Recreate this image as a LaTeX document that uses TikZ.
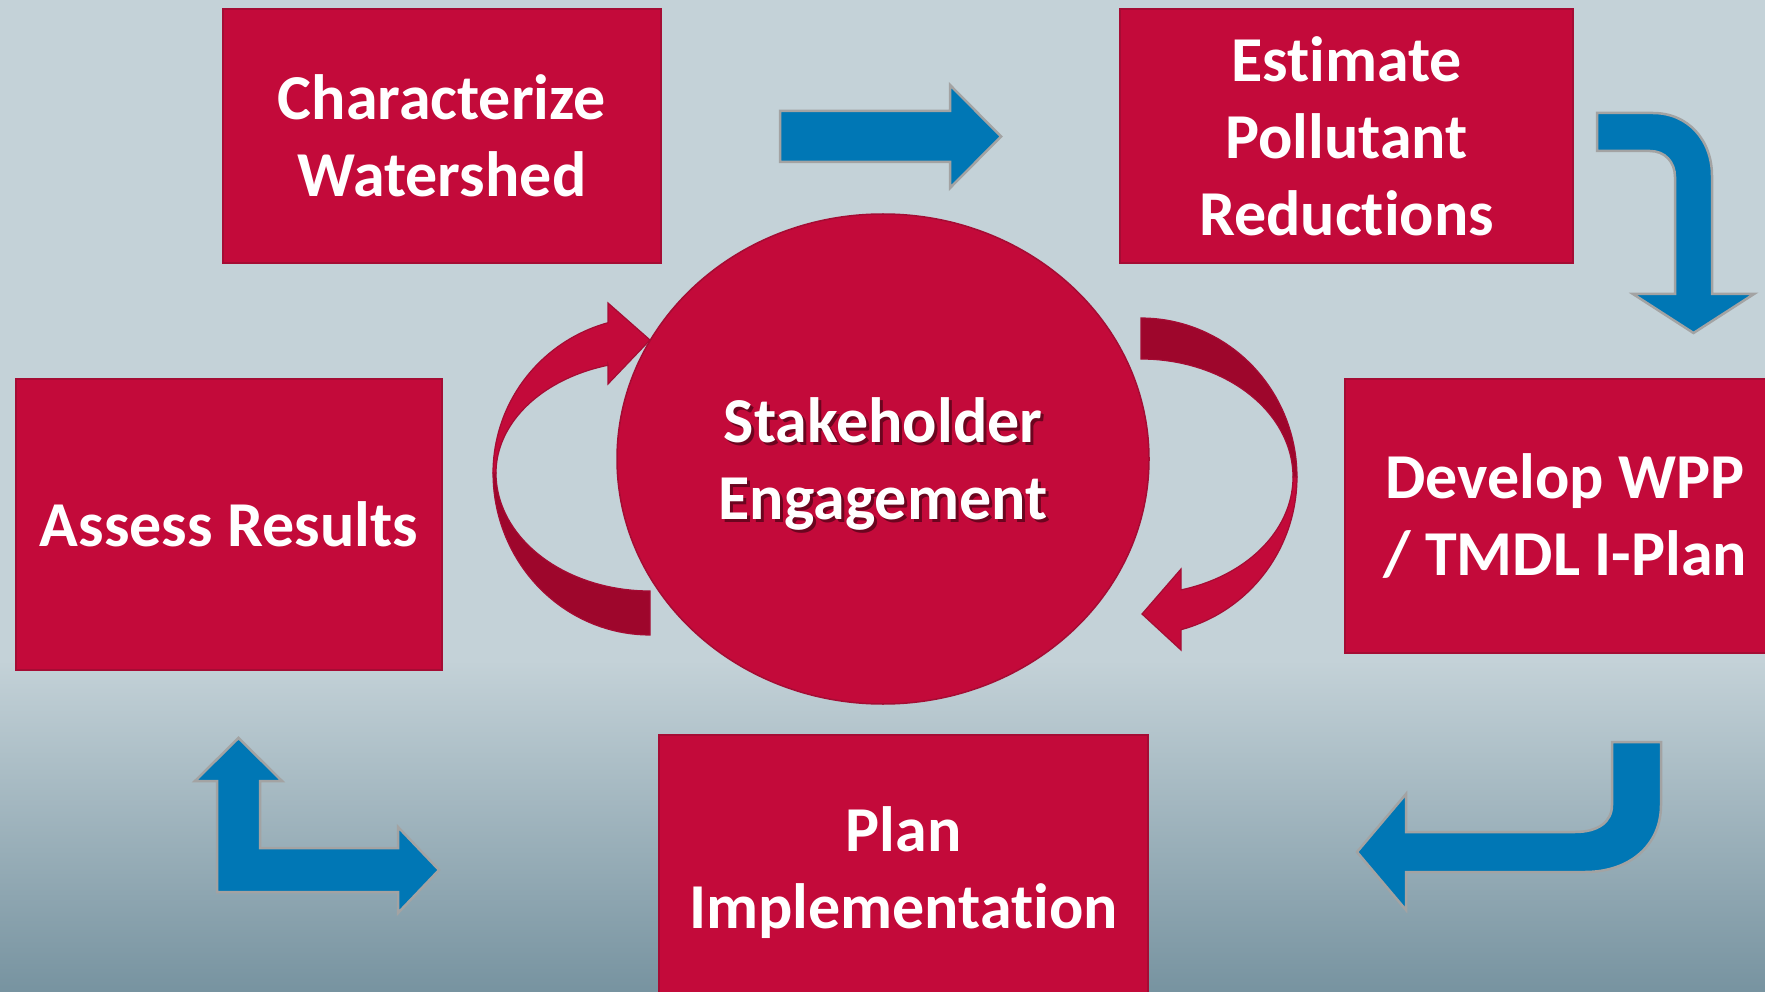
\documentclass[tikz,border=0pt]{standalone}
\usepackage{fontspec}
\setmainfont{Carlito}[Ligatures=NoCommon]
\usetikzlibrary{shapes.geometric}
\definecolor{bgtop}{HTML}{C4D2D8}
\definecolor{bgbot}{HTML}{7793A0}
\definecolor{boxred}{HTML}{C30A3A}
\definecolor{boxline}{HTML}{A50C34}
\definecolor{darkred}{HTML}{9E062C}
\definecolor{arrblue}{HTML}{0077B5}
\definecolor{arrline}{HTML}{A3A3A3}
\tikzset{
  bigtext/.style={text=white, font=\bfseries\fontsize{64}{77}\selectfont, align=center},
  redbox/.style={bigtext, draw=boxline, line width=1.5pt, fill=boxred, inner sep=0pt},
  blockarrow/.style={fill=arrblue, draw=arrline, line width=2.5pt, line join=miter},
  lightband/.style={fill=boxred, draw=boxline, line width=1.2pt, line join=miter},
  darkband/.style={fill=darkred, draw=boxline, line width=1.2pt, line join=miter},
  shadowtext/.style={text=black, opacity=0.45, font=\bfseries\fontsize{64}{77}\selectfont, align=center}
}
\begin{document}
\begin{tikzpicture}[x=1pt,y=-1pt]
\useasboundingbox (0,0) rectangle (1765,992);
\clip (0,0) rectangle (1765,992);
% background
\fill[bgtop] (0,0) rectangle (1765,661);
\shade[top color=bgtop, bottom color=bgbot] (0,660) rectangle (1765,992);

% boxes
\node[redbox, minimum width=438pt, minimum height=254pt] (char) at (442,136) {Characterize\\Watershed};
\node[redbox, minimum width=453pt, minimum height=254pt] (est) at (1346.5,136) {Estimate\\Pollutant\\Reductions};
\node[redbox, minimum width=440pt, minimum height=274pt] (dev) at (1565,516) {Develop WPP\\/ TMDL I-Plan};
\node[redbox, minimum width=426pt, minimum height=291pt] (assess) at (229,524.5) {Assess Results};
\node[redbox, minimum width=489pt, minimum height=275pt] (plan) at (903.5,872.5) {Plan\\Implementation};

% central ellipse
\node[ellipse, draw=boxline, line width=1.5pt, fill=boxred, minimum width=532pt, minimum height=490pt, inner sep=0pt] (stake) at (883,459) {};
\node[shadowtext] (stshadow) at ([shift={(3,8)}]stake.center) {Stakeholder\\Engagement};
\node[bigtext] (sttext) at ([shift={(0,5)}]stake.center) {Stakeholder\\Engagement};

% blue block arrows
\draw[blockarrow] (780,111) -- (950,111) -- (950,85) -- (1001,136.5) -- (950,188) -- (950,162) -- (780,162) -- cycle;
\draw[blockarrow] (1597,113) -- (1653,113) .. controls (1688,113) and (1712,140) .. (1712,176) -- (1712,294) -- (1754,294) -- (1693.5,333) -- (1633,294) -- (1675,294) -- (1675,177) .. controls (1675,162) and (1665,151) .. (1650,151) -- (1597,151) -- cycle;
\draw[blockarrow] (1612,742) -- (1661,742) -- (1661,805) .. controls (1661,845) and (1630,872) .. (1585,872) -- (1406,872) -- (1406,910) -- (1357,852) -- (1406,794) -- (1406,832) -- (1575,832) .. controls (1598,832) and (1612,822) .. (1612,805) -- cycle;
\draw[blockarrow] (238.5,738) -- (282,781) -- (260,781) -- (260,848) -- (398,848) -- (398,827) -- (439,870) -- (398,913) -- (398,892) -- (217,892) -- (217,781) -- (195,781) -- cycle;

% left circular arrow
\draw[darkband] plot[domain=180:90, samples=40, variable=\t] ({650+157*cos(\t)},{473+162*sin(\t)}) -- (650,593) -- plot[domain=90:180, samples=40, variable=\t] ({650+154*cos(\t)},{473+118*sin(\t)}) -- cycle;
\draw[lightband] (608,365) -- plot[domain=254.2:180, samples=40, variable=\t] ({650+154*cos(\t)},{473+112*sin(\t)}) -- plot[domain=180:254.5, samples=40, variable=\t] ({650+157*cos(\t)},{473+156*sin(\t)}) -- (608,303) -- (650,340) -- (608,384) -- cycle;

% right circular arrow
\draw[darkband] plot[domain=-90:0, samples=40, variable=\t] ({1141+156*cos(\t)},{477+159*sin(\t)}) -- plot[domain=0:-90, samples=40, variable=\t] ({1141+152*cos(\t)},{477+118*sin(\t)}) -- cycle;
\draw[lightband] plot[domain=0:75.1, samples=40, variable=\t] ({1141+156*cos(\t)},{477+158*sin(\t)}) -- (1181,650) -- (1142,614) -- (1181,569) -- plot[domain=74.7:0, samples=40, variable=\t] ({1141+152*cos(\t)},{477+117*sin(\t)}) -- cycle;
\end{tikzpicture}
\end{document}
